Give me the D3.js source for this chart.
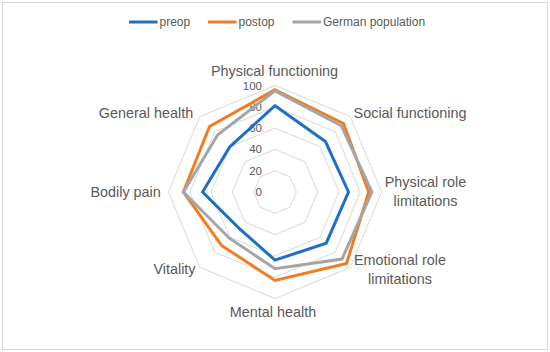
<!DOCTYPE html>
<html>
<head>
<meta charset="utf-8">
<script src="https://cdn.jsdelivr.net/npm/d3@7"></script>
<style>
  html, body { margin: 0; padding: 0; background: #fff; }
  svg { display: block; }
</style>
</head>
<body>
<svg id="chart" width="550" height="352"></svg>
<script>
const categories = ["Physical functioning", "Social functioning", "Physical role limitations",
  "Emotional role limitations", "Mental health", "Vitality", "Bodily pain", "General health"];
const preop = [81, 67, 69, 68, 64, 48, 68, 60];
const postop = [96, 91, 88, 95, 83, 71, 86, 87];
const germanPopulation = [95, 88, 91, 89, 72, 61, 86, 76];
const tickValues = [0, 20, 40, 60, 80, 100];
const seriesNames = ["preop", "postop", "German population"];
const seriesColors = ["#1f6fc6", "#f27c22", "#a5a5a5"];

const svg = d3.select("#chart");
const W = 550, H = 352;
const cx = 275, cy = 192;
const R = 106.5;
const textColor = "#595959";
const font = "'Liberation Sans', Arial, sans-serif";

// outer border
svg.append("rect").attr("x", 2.5).attr("y", 2.5).attr("width", W - 5).attr("height", H - 5)
  .attr("fill", "#fff").attr("stroke", "#d9d9d9").attr("stroke-width", 1);

const r = d3.scaleLinear().domain([0, 100]).range([0, R]);
const n = categories.length;
const angle = d3.scaleLinear().domain([0, n]).range([0, 2 * Math.PI]);

const g = svg.append("g").attr("transform", `translate(${cx},${cy})`);

// grid rings
const ringLine = d3.lineRadial().angle((d, i) => angle(i)).radius(d => r(d)).curve(d3.curveLinearClosed);
tickValues.filter(t => t > 0).forEach(t => {
  g.append("path").attr("d", ringLine(d3.range(n).map(() => t)))
    .attr("fill", "none").attr("stroke", "#d9d9d9").attr("stroke-width", 1);
});

// tick labels
g.selectAll("text.tick").data(tickValues).enter().append("text")
  .attr("class", "tick")
  .attr("x", -13).attr("y", d => -r(d))
  .attr("dy", "0.35em")
  .attr("text-anchor", "end")
  .attr("font-family", font).attr("font-size", 11.5)
  .attr("fill", textColor)
  .text(d => d);

// series
const allSeries = [preop, postop, germanPopulation];
allSeries.forEach((vals, si) => {
  g.append("path").attr("d", ringLine(vals))
    .attr("fill", "none").attr("stroke", seriesColors[si])
    .attr("stroke-width", 3).attr("stroke-linejoin", "miter");
});

// category labels
const labelLines = [
  ["Physical functioning"], ["Social functioning"], ["Physical role", "limitations"],
  ["Emotional role", "limitations"], ["Mental health"], ["Vitality"], ["Bodily pain"], ["General health"]
];
const labelPos = [
  [274.5, 70.7], [410, 113.3], [425.5, 191.5], [400, 269.3], [273, 311.7], [174.5, 269.3], [125.6, 191.7], [146, 113.3]
];
labelLines.forEach((lines, i) => {
  const t = svg.append("text")
    .attr("font-family", font).attr("font-size", 14.4)
    .attr("fill", textColor).attr("text-anchor", "middle");
  const lh = 18.7;
  lines.forEach((ln, j) => {
    t.append("tspan").attr("x", labelPos[i][0])
      .attr("y", labelPos[i][1] + (j - (lines.length - 1) / 2) * lh)
      .attr("dy", "0.35em").text(ln);
  });
});

// legend
const legendX = [129, 208, 292.5];
const legendY = 22;
seriesNames.forEach((name, i) => {
  const lg = svg.append("g");
  lg.append("line").attr("x1", legendX[i]).attr("x2", legendX[i] + 28.5)
    .attr("y1", legendY).attr("y2", legendY)
    .attr("stroke", seriesColors[i]).attr("stroke-width", 3);
  lg.append("text").attr("x", legendX[i] + 30.5).attr("y", legendY).attr("dy", "0.35em")
    .attr("font-family", font).attr("font-size", 12).attr("fill", textColor).text(name);
});
</script>
</body>
</html>
